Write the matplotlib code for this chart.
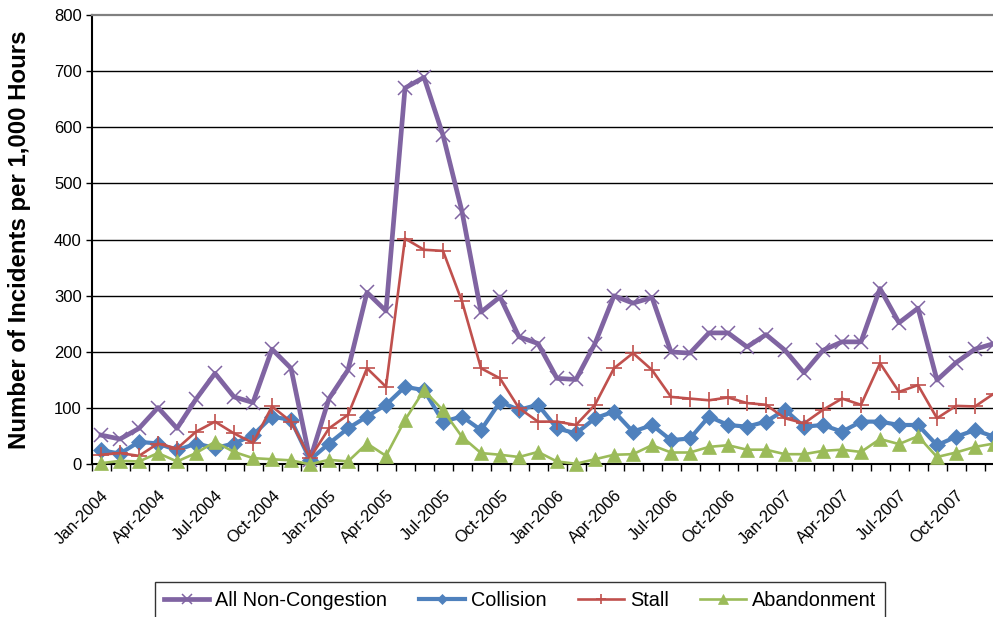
import matplotlib
matplotlib.use("Agg")
import matplotlib.pyplot as plt
from matplotlib.ticker import FixedLocator, NullFormatter

plt.rcParams['font.family'] = ['Liberation Sans', 'DejaVu Sans']

months = ['Jan', 'Feb', 'Mar', 'Apr', 'May', 'Jun', 'Jul', 'Aug', 'Sep', 'Oct', 'Nov', 'Dec']
years = [2004, 2005, 2006, 2007]
categories = [f"{m}-{y}" for y in years for m in months]

all_non_congestion = [52, 45, 64, 101, 64, 116, 162, 120, 110, 205, 171, 8,
                      117, 168, 306, 273, 670, 689, 586, 450, 271, 298, 227, 215,
                      153, 151, 215, 300, 287, 297, 200, 198, 234, 234, 209, 231,
                      203, 163, 203, 218, 218, 313, 252, 278, 150, 181, 205, 215]
collision = [25, 19, 40, 37, 25, 37, 29, 37, 52, 85, 79, 8,
             37, 64, 85, 106, 138, 132, 76, 85, 61, 111, 97, 106,
             64, 55, 82, 94, 58, 70, 43, 46, 85, 70, 67, 76,
             97, 67, 70, 58, 76, 76, 70, 70, 34, 49, 61, 49]
stall = [17, 20, 15, 37, 28, 58, 76, 55, 38, 103, 76, 11,
         64, 88, 171, 138, 402, 382, 380, 290, 171, 153, 100, 76,
         76, 70, 106, 171, 198, 168, 120, 117, 114, 119, 109, 106,
         82, 73, 97, 117, 106, 180, 129, 141, 82, 104, 103, 126]
abandonment = [2, 6, 5, 20, 5, 20, 40, 22, 11, 9, 7, 0,
               8, 5, 37, 15, 79, 132, 96, 49, 20, 17, 13, 22,
               5, 1, 9, 17, 18, 34, 21, 21, 31, 34, 26, 26,
               18, 18, 24, 26, 22, 45, 36, 50, 13, 21, 31, 37]

series_names = ['All Non-Congestion', 'Collision', 'Stall', 'Abandonment']
series_values = [all_non_congestion, collision, stall, abandonment]
y_ticks = [0, 100, 200, 300, 400, 500, 600, 700, 800]
label_every = 3

styles = [
    dict(color='#8064A2', lw=3.4, marker='x', ms=9.5, mew=1.1),
    dict(color='#4F81BD', lw=3.0, marker='D', ms=8.0, mew=0.5),
    dict(color='#C0504D', lw=1.9, marker='+', ms=11, mew=1.2),
    dict(color='#9BBB59', lw=1.9, marker='^', ms=9.5, mew=0.5),
]

fig = plt.figure(figsize=(9.93, 6.17), dpi=100)
W, H = 993, 617
ax_left, ax_right = 91.5, 91.5 + 48 * 19.0
ax_top, ax_bottom = 15.0, 464.3
ax = fig.add_axes([ax_left / W, 1 - ax_bottom / H,
                   (ax_right - ax_left) / W, (ax_bottom - ax_top) / H])

x = list(range(len(categories)))
for name, vals, st in zip(series_names, series_values, styles):
    ax.plot(x, vals, label=name, color=st['color'], lw=st['lw'],
            marker=st['marker'], markersize=st['ms'], markeredgewidth=st['mew'],
            markeredgecolor=st['color'], markerfacecolor=st['color'],
            clip_on=False, zorder=3)

ax.set_xlim(-0.5, len(categories) - 0.5)
ax.set_ylim(0, 800)
ax.set_yticks(y_ticks)
ax.set_yticklabels([str(v) for v in y_ticks], fontsize=12)
for v in y_ticks[1:-1]:
    ax.axhline(v, color='black', lw=1.0, zorder=1)

major_pos = x[::label_every]
ax.set_xticks(major_pos)
ax.set_xticklabels([categories[i] for i in major_pos], rotation=45, ha='right',
                   rotation_mode='anchor', fontsize=11.8)
ax.xaxis.set_minor_locator(FixedLocator([i - 0.5 for i in range(len(categories) + 1)]))
ax.xaxis.set_minor_formatter(NullFormatter())
ax.tick_params(axis='x', which='major', length=0, pad=17)
ax.tick_params(axis='x', which='minor', length=5, width=1, direction='out', color='black')
ax.tick_params(axis='y', length=4, width=1, direction='out', pad=3)

for side in ['left', 'bottom']:
    ax.spines[side].set_color('black')
    ax.spines[side].set_linewidth(1.5)
ax.spines['top'].set_color('#808080')
ax.spines['top'].set_linewidth(1.6)
ax.spines['right'].set_visible(False)

ax.set_ylabel('Number of Incidents per 1,000 Hours', fontsize=17.3, fontweight='bold')
ax.yaxis.set_label_coords((31 - ax_left) / (ax_right - ax_left), 0.5)

leg = fig.legend(loc='upper center', bbox_to_anchor=((157 + 883) / 2 / W, 1 - 582 / H),
                 ncol=4, fontsize=14.3, frameon=True, fancybox=False,
                 edgecolor='black', handlelength=2.3, handletextpad=0.3,
                 columnspacing=1.6, markerscale=0.7, borderpad=0.45,
                 borderaxespad=0.0)
leg.get_frame().set_linewidth(1.0)

fig.savefig('out.png', dpi=100)
